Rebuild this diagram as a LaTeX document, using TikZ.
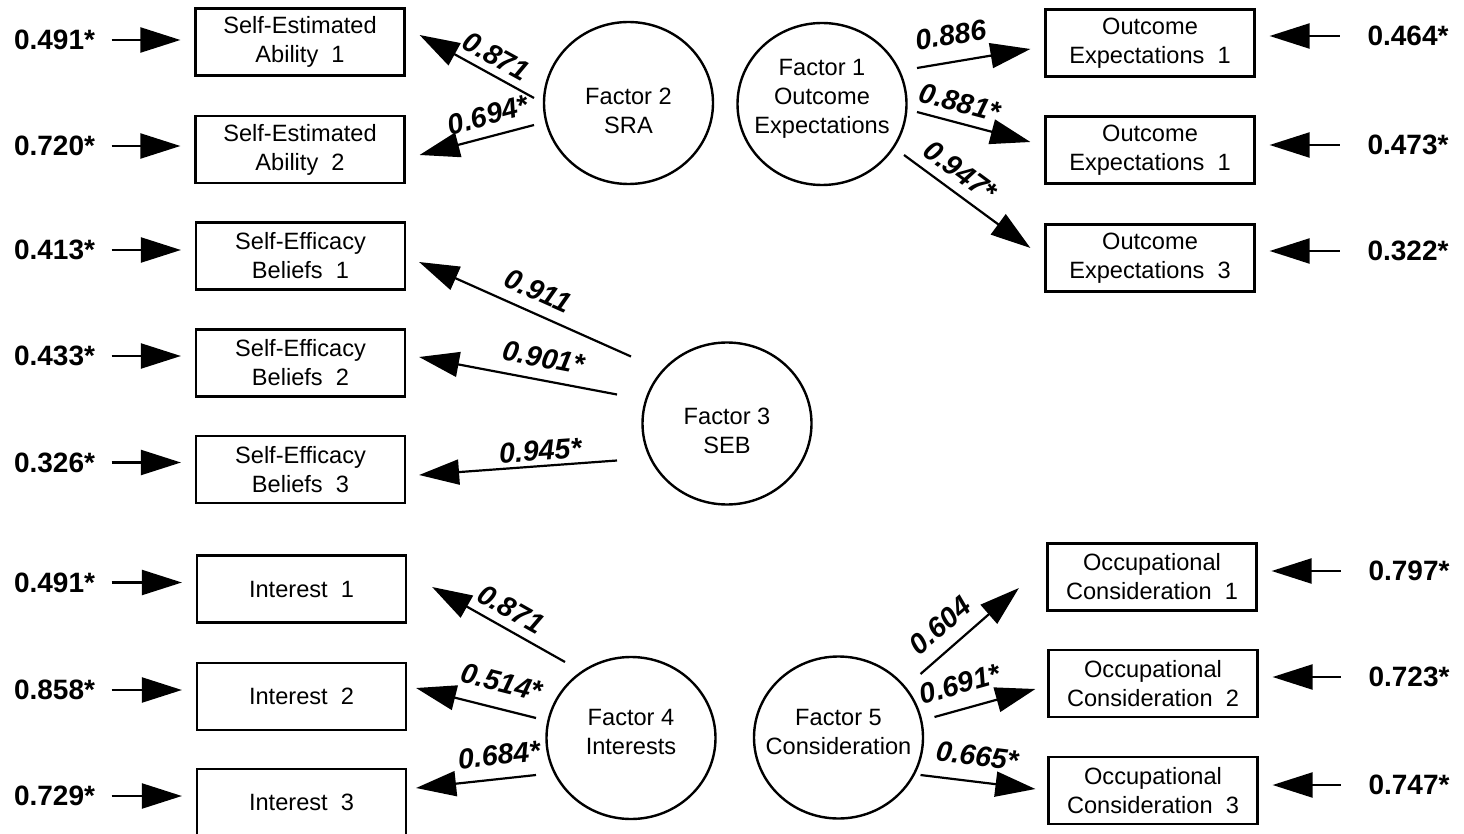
\documentclass[tikz,border=0pt]{standalone}
\usepackage{fontspec}
\setmainfont{Liberation Sans}
\usetikzlibrary{arrows.meta,calc,shapes.geometric}

\begin{document}
\begin{tikzpicture}[x=1pt,y=-1pt,
  ind/.style={draw, line width=2.2pt, minimum width=209pt, minimum height=67pt,
    inner sep=0pt, align=center, font=\fontsize{23.6}{29}\selectfont},
  factor/.style={draw, ellipse, line width=2.4pt, minimum width=169pt,
    minimum height=162pt, inner sep=0pt},
  ftext/.style={align=center, inner sep=0pt, font=\fontsize{23.6}{29}\selectfont},
  errlab/.style={inner sep=0pt, font=\fontsize{28}{30}\selectfont\bfseries},
  coef/.style={inner sep=0pt, sloped, font=\fontsize{28.5}{30}\selectfont\bfseries\itshape},
  arr/.style={-{Triangle[length=40pt,width=25pt]}, line width=2.2pt},
  errL/.style={arr, shorten <=16.5pt, shorten >=14pt},
  errR/.style={arr, shorten <=27.5pt, shorten >=14pt},
]
\useasboundingbox (0,0) rectangle (1464,834);
\fill[white] (0,0) rectangle (1464,834);

% observed indicators, left column
\node[ind] (SEA1) at (300,42)    {Self-Estimated\\Ability~~1};
\node[ind] (SEA2) at (300,149.5) {Self-Estimated\\Ability~~2};
\node[ind] (SEB1) at (300.5,256)   {Self-Efficacy\\Beliefs~~1};
\node[ind] (SEB2) at (300.5,363)   {Self-Efficacy\\Beliefs~~2};
\node[ind] (SEB3) at (300.5,469.5) {Self-Efficacy\\Beliefs~~3};
\node[ind] (INT1) at (301.5,589)   {Interest~~1};
\node[ind] (INT2) at (301.5,696.5) {Interest~~2};
\node[ind] (INT3) at (301.5,802.5) {Interest~~3};

% observed indicators, right column
\node[ind] (OE1) at (1150,43)  {Outcome\\Expectations~~1};
\node[ind] (OE2) at (1150,150) {Outcome\\Expectations~~1};
\node[ind] (OE3) at (1150,258) {Outcome\\Expectations~~3};
\node[ind] (OC1) at (1152,577)   {Occupational\\Consideration~~1};
\node[ind] (OC2) at (1153,683.5) {Occupational\\Consideration~~2};
\node[ind] (OC3) at (1153,790.5) {Occupational\\Consideration~~3};

% latent factors
\node[factor] (F2) at (628.5,103) {};
\node[ftext] (F2t) at (628.5,110.5) {Factor 2\\SRA};
\node[factor] (F1) at (822,104) {};
\node[ftext] (F1t) at (822,99) {Factor 1\\Outcome\\Expectations};
\node[factor] (F3) at (727,423.5) {};
\node[ftext] (F3t) at (727,431) {Factor 3\\SEB};
\node[factor] (F4) at (631,738) {};
\node[ftext] (F4t) at (631,731.5) {Factor 4\\Interests};
\node[factor] (F5) at (838.5,737.5) {};
\node[ftext] (F5t) at (838.5,731.5) {Factor 5\\Consideration};

% error variances, left
\node[errlab] (eSEA1) at (54.5,40)    {0.491*};
\node[errlab] (eSEA2) at (54.5,146)   {0.720*};
\node[errlab] (eSEB1) at (54.5,250)   {0.413*};
\node[errlab] (eSEB2) at (54.5,356)   {0.433*};
\node[errlab] (eSEB3) at (54.5,462.5) {0.326*};
\node[errlab] (eINT1) at (54.5,582.5) {0.491*};
\node[errlab] (eINT2) at (54.5,690)   {0.858*};
\node[errlab] (eINT3) at (54.5,796)   {0.729*};
\foreach \n in {SEA1,SEA2,SEB1,SEB2,SEB3,INT1,INT2,INT3}
  \draw[errL] (e\n.east) -- (e\n.east -| \n.west);

% error variances, right
\node[errlab] (eOE1) at (1408,36)  {0.464*};
\node[errlab] (eOE2) at (1408,145) {0.473*};
\node[errlab] (eOE3) at (1408,251) {0.322*};
\node[errlab] (eOC1) at (1409,571) {0.797*};
\node[errlab] (eOC2) at (1409,677) {0.723*};
\node[errlab] (eOC3) at (1409,785) {0.747*};
\foreach \n in {OE1,OE2,OE3,OC1,OC2,OC3}
  \draw[errR] (e\n.west) -- (e\n.west -| \n.east);

% loadings: Factor 2
\draw[arr] ($(F2)+(-94.5,-5)$) -- node[coef, pos=0.408, above=7.2pt] {0.871} ($(SEA1.east)+(14,-7)$);
\draw[arr] ($(F2)+(-94.5,22)$) -- node[coef, pos=0.353, above=10pt] {0.694*} ($(SEA2.east)+(14,5.5)$);

% loadings: Factor 1
\draw[arr] ($(F1)+(95,-36)$) -- node[coef, pos=0.336, above=15.8pt] {0.886} ($(OE1.west)+(-14,6)$);
\draw[arr] ($(F1)+(95,8)$)   -- node[coef, pos=0.333, above=9.4pt] {0.881*} ($(OE2.west)+(-14,-8)$);
\draw[arr] ($(F1)+(82,51)$)  -- node[coef, pos=0.351, above=9.2pt] {0.947*} ($(OE3.west)+(-14,-10)$);

% loadings: Factor 3
\draw[arr] ($(F3)+(-96,-67)$)  -- node[coef, pos=0.482, above=11pt] {0.911} ($(SEB1.east)+(13,6)$);
\draw[arr] ($(F3)+(-110,-29)$) -- node[coef, pos=0.392, above=11.3pt] {0.901*} ($(SEB2.east)+(13,-6)$);
\draw[arr] ($(F3)+(-110,37)$)  -- node[coef, pos=0.382, above=4.2pt] {0.945*} ($(SEB3.east)+(13,5.5)$);

% loadings: Factor 4
\draw[arr] ($(F4)+(-66,-76)$) -- node[coef, pos=0.478, above=8.3pt] {0.871} ($(INT1.east)+(25,-2)$);
\draw[arr] ($(F4)+(-95,-20)$) -- node[coef, pos=0.340, above=15.3pt] {0.514*} ($(INT2.east)+(9,-8.5)$);
\draw[arr] ($(F4)+(-95,37)$)  -- node[coef, pos=0.286, above=12.6pt] {0.684*} ($(INT3.east)+(9,-14.5)$);

% loadings: Factor 5
\draw[arr] ($(F5)+(82,-63.5)$) -- node[coef, pos=0.358, above=12.5pt] {0.604} ($(OC1.west)+(-27.5,11)$);
\draw[arr] ($(F5)+(96,-20.5)$) -- node[coef, pos=0.317, above=13.8pt] {0.691*} ($(OC2.west)+(-12,5.5)$);
\draw[arr] ($(F5)+(82,37.5)$)  -- node[coef, pos=0.466, above=14.5pt] {0.665*} ($(OC3.west)+(-12,-1.5)$);
\end{tikzpicture}
\end{document}
